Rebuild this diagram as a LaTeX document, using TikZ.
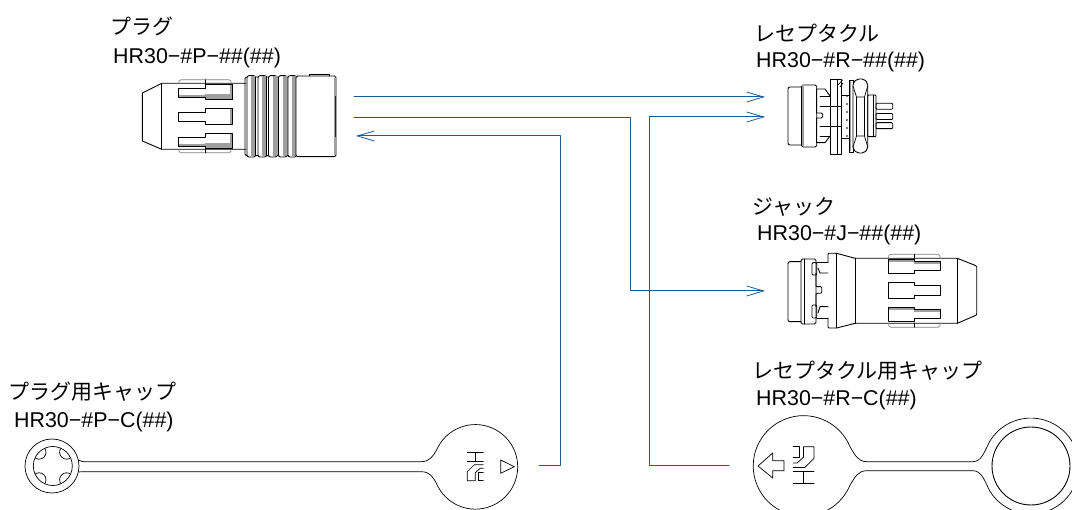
\documentclass[tikz,border=0pt]{standalone}
\usepackage{fontspec}
\setmainfont{Liberation Sans}
\newfontfamily\jpfont{Noto Sans CJK JP}
\usetikzlibrary{calc,arrows.meta}
\definecolor{linkblue}{RGB}{30,90,150}
\tikzset{
    part/.style={draw=black, line width=0.9pt},
    thinpart/.style={draw=black, line width=0.7pt},
    link/.style={draw=linkblue, line width=1pt},
    linkto/.style={link, -{Straight Barb[length=17pt, width=10pt, line width=0.8pt]}},
    jplabel/.style={anchor=west, inner sep=0pt, font=\jpfont\fontsize{21}{23}\selectfont},
    codelabel/.style={anchor=west, inner sep=0pt, font=\fontsize{21.4}{23}\selectfont},
    logoHRS/.pic={
        \draw[thinpart] (-8,-14) -- (8,-14) (0,-14) -- (0,-5) (-8,-5) -- (8,-5);
        \draw[thinpart] (8,-2) -- (-1,-2) -- (-8,5) -- (-8,14) -- (0,14) -- (0,6) -- (5,1.5) -- (8,1.5);
        \draw[thinpart] (8,14) -- (3.5,14) -- (3.5,6) -- (8,6);
    }
}

\begin{document}
\begin{tikzpicture}[x=1pt, y=-1pt, line join=round, line cap=round]
    \useasboundingbox (0,0) rectangle (1072,510);
    \clip (0,0) rectangle (1072,510);

    % Labels
    \node[jplabel] (plugName) at (110,26) {プラグ};
    \node[codelabel] (plugCode) at (113,58) {HR30−\#P−\#\#(\#\#)};
    \node[jplabel] (recName) at (754,33) {レセプタクル};
    \node[codelabel] (recCode) at (756,62) {HR30−\#R−\#\#(\#\#)};
    \node[jplabel] (jackName) at (752,207) {ジャック};
    \node[codelabel] (jackCode) at (757,235) {HR30−\#J−\#\#(\#\#)};
    \node[jplabel] (plugCapName) at (8,392) {プラグ用キャップ};
    \node[codelabel] (plugCapCode) at (14,422) {HR30−\#P−C(\#\#)};
    \node[jplabel] (recCapName) at (752,371) {レセプタクル用キャップ};
    \node[codelabel] (recCapCode) at (756,400) {HR30−\#R−C(\#\#)};

    % Plug
    \draw[part] (246,83.3) -- (161.7,83.3) -- (142.3,93) -- (142.3,141) -- (161.7,149.3) -- (246,149.3);
    \draw[part] (161.7,83.3) -- (161.7,149.3);
    \draw[thinpart, draw=gray] (179,83.3) -- (179,81) -- (181,79.7) -- (229,79.7) -- (231,81) -- (231,83.3);
    \draw[thinpart, draw=gray] (179,149.3) -- (179,151.5) -- (181,152.7) -- (229,152.7) -- (231,151.5) -- (231,149.3);
    \draw[thinpart] (205,79.7) -- (205,84) (205,149) -- (205,152.7);
    \foreach \dy in {0,49}{
        \fill[gray!75] (205,94.5+\dy) rectangle (232,99+\dy);
        \fill[gray!75] (229.5,84+\dy) rectangle (232,99+\dy);
        \fill[gray!75] (178,95+\dy) rectangle (205,97+\dy);
        \draw[part] (178,88+\dy) -- (205,88+\dy) -- (205,84+\dy) -- (232,84+\dy) -- (232,99+\dy) -- (205,99+\dy) -- (205,97+\dy) -- (178,97+\dy) -- cycle;
    }
    \fill[gray!75] (229.5,108) rectangle (232,124);
    \draw[part] (178,112) -- (205,112) -- (205,108) -- (232,108) -- (232,124) -- (205,124) -- (205,121.7) -- (178,121.7) -- cycle;
    \draw[part, rounded corners=1.5pt] (245,77) rectangle (296,155.7);
    \foreach \xr in {247,258,268.5,278.5,288}{
        \draw[part, fill=white, rounded corners=2pt] (\xr,75.7) rectangle (\xr+8.5,157);
        \fill[gray!75] (\xr+4,76.5) rectangle (\xr+8,156.5);
    }
    \draw[part, fill=white, rounded corners=1.5pt] (296,76) rectangle (336,156.7);
    \draw[part] (309,76) -- (309,74.3) -- (329,74.3) -- (329,76);
    \fill[gray!75] (334,78) rectangle (336,155);
    \fill[gray!30!black] (334.5,96) rectangle (336,137);

    % Receptacle
    \draw[part, rounded corners=2pt] (801.5,87) -- (788,87) -- (788,145) -- (801.5,145);
    \draw[part, rounded corners=1.5pt] (801.5,85) rectangle (816.7,147);
    \fill[gray!75] (801.5,85.5) rectangle (803.5,146.5);
    \draw[part, rounded corners=1.5pt] (816.7,113) -- (822.7,113) -- (822.7,118) -- (816.7,118);
    \draw[part] (816.7,89) -- (825,89) -- (830,96) (816.7,142.7) -- (825,142.7) -- (830,136);
    \draw[part] (816.7,89) -- (816.7,113) (816.7,118) -- (816.7,142.7);
    \draw[part] (820,96) -- (830,96) (820,106.7) -- (830,106.7) (820,126.7) -- (830,126.7) (820,136) -- (830,136);
    \draw[part] (830,79) rectangle (841.7,154);
    \draw[part] (830,106.7) -- (841.7,106.7) (830,126.7) -- (841.7,126.7) (837,79) -- (837,154);
    \draw[thinpart] (838,85) -- (842.5,80) (840,87) -- (843,83);
    \draw[part] (841.7,95) rectangle (849,138);
    \foreach \yd in {96,104,112,120,128,136}{
        \fill (847,\yd) circle (0.9);
    }
    \draw[part, fill=white] (849,80.7) rectangle (853,152);
    \fill[gray!75] (849.5,81) rectangle (851,151.5);
    \draw[part, fill=white, rounded corners=2pt] (853,83) -- (857,79) -- (864,79) -- (867.7,83) -- (867.7,149) -- (864,153) -- (857,153) -- (853,149) -- cycle;
    \draw[thinpart] (853,86) -- (856.5,97) -- (864.5,97) -- (867.7,86);
    \draw[thinpart] (853,147) -- (856.5,136) -- (864.5,136) -- (867.7,147);
    \draw[thinpart] (856.5,97) -- (856.5,136) (864.5,97) -- (864.5,136);
    \draw[part, rounded corners=1pt] (867.7,95) rectangle (876,136.7);
    \draw[part] (873,95) -- (873,136.7);
    \foreach \ys in {103.3,113.5,122.7}{
        \draw[part, rounded corners=1pt] (876,\ys) rectangle (892.7,\ys+6);
    }

    % Jack
    \draw[part, rounded corners=2pt] (801,261.7) -- (788,261.7) -- (788,321.7) -- (801,321.7);
    \draw[part, rounded corners=1.5pt] (801,259) rectangle (816,324);
    \draw[part] (804,259) -- (804,324);
    \draw[part, rounded corners=1pt] (812,262.7) rectangle (816.7,275);
    \draw[part, rounded corners=1pt] (812,305) rectangle (816.7,318);
    \draw[part] (816.7,262.7) -- (828,262.7) (816.7,318) -- (828,318);
    \draw[part] (818,268) -- (820,273) -- (828,273) (818,313) -- (820,306.7) -- (828,306.7);
    \draw[part, rounded corners=1pt] (816,273) -- (816,286.7) -- (821.7,286.7) -- (821.7,293.3) -- (816,293.3) -- (816,306.7);
    \draw[part, rounded corners=1pt] (828,262.7) -- (828,253.3) -- (836.7,253.3) -- (855,258.3) -- (957.3,258.3) -- (976.7,266) -- (976.7,315) -- (957.3,323.3) -- (855,323.3) -- (836.7,328) -- (828,328) -- (828,318);
    \draw[part] (836.7,253.3) -- (836.7,328) (855,258.3) -- (855,323.3) (957.3,258.3) -- (957.3,323.3);
    \draw[thinpart, draw=gray] (888.3,258.3) -- (889,255) -- (891,254.3) -- (938,254.3) -- (940,256) -- (940,258.3);
    \draw[thinpart, draw=gray] (888.3,323.3) -- (889,326) -- (891,327.3) -- (938,327.3) -- (940,326) -- (940,323.3);
    \draw[thinpart] (914,254.3) -- (914,259) (914,323) -- (914,327.3);
    \foreach \dy in {0,48}{
        \fill[gray!75] (888.3,259.3+\dy) rectangle (914,262+\dy);
        \fill[gray!75] (914,261.7+\dy) rectangle (940.7,264+\dy);
        \draw[part] (888.3,259.3+\dy) -- (914,259.3+\dy) -- (914,261.7+\dy) -- (940.7,261.7+\dy) -- (940.7,270.7+\dy) -- (914,270.7+\dy) -- (914,273+\dy) -- (888.3,273+\dy) -- cycle;
    }
    \draw[part] (888.3,282.3) -- (914,282.3) -- (914,285.7) -- (940.7,285.7) -- (940.7,295) -- (914,295) -- (914,298.3) -- (888.3,298.3) -- cycle;

    % Plug cap
    \draw[thinpart] (52,466) circle (27);
    \draw[thinpart] (52.8,466) circle (19.5);
    \begin{scope}
        \clip (52.8,466) circle (19.5);
        \foreach \a in {45,135,225,315}{
            \draw[thinpart] ($(52.8,466)+(\a:19.5)$) circle (7);
        }
    \end{scope}
    \draw[thinpart] (78.6,460) .. controls (81,461.7) and (83,461.7) .. (87,461.7) -- (421,461.7)
        .. controls (430,461.7) and (433,456) .. (436.6,450)
        arc[start angle=203.5, end angle=516.5, radius=42.3]
        .. controls (433,477) and (430,471.7) .. (421,471.7) -- (87,471.7)
        .. controls (83,471.7) and (81,471.7) .. (78.6,472);
    \draw[thinpart] (500.7,460) -- (514.3,466.7) -- (500.7,473.3) -- cycle;
    \pic at (475.3,466.7) {logoHRS};

    % Receptacle cap
    \draw[thinpart] (973,461.7) -- (867,461.7) .. controls (858,461.7) and (855,455) .. (850,446.7)
        arc[start angle=337.5, end angle=22.5, radius=50.3, delta angle=-315]
        .. controls (855,477) and (858,470.7) .. (867,470.7) -- (973,470.7)
        .. controls (982,470.7) and (985,482) .. (990,491.3)
        arc[start angle=148.3, end angle=-148.3, radius=48]
        .. controls (985,450) and (982,461.7) .. (973,461.7);
    \draw[part] (1031,466) circle (39);
    \draw[thinpart] (758,466) -- (772.7,453) -- (772.7,460.7) -- (784,460.7) -- (784,470.7) -- (772.7,470.7) -- (772.7,478) -- cycle;
    \pic[rotate=180, scale=1.3] at (803.5,465) {logoHRS};

    % Connector ends
    \coordinate (plugTop) at (354,97);
    \coordinate (plugMid) at (354,118);
    \coordinate (plugBack) at (356,136);
    \coordinate (recTop) at (765,97);
    \coordinate (recLow) at (765,117);
    \coordinate (jackIn) at (765,291);
    \coordinate (plugCapOut) at (539,466);
    \coordinate (recCapOut) at (729,466);
    \coordinate (plugTurn) at (560,136);
    \coordinate (jackTurn) at (630,118);
    \coordinate (recTurn) at (649,117);

    % Connectors
    \draw[linkto] (plugTop) -- (recTop);
    \draw[linkto] (plugMid) -- (jackTurn) |- (jackIn);
    \draw[linkto] (plugCapOut) -| (plugTurn) -- (plugBack);
    \draw[linkto] (recCapOut) -| (recTurn) -- (recLow);
\end{tikzpicture}
\end{document}
